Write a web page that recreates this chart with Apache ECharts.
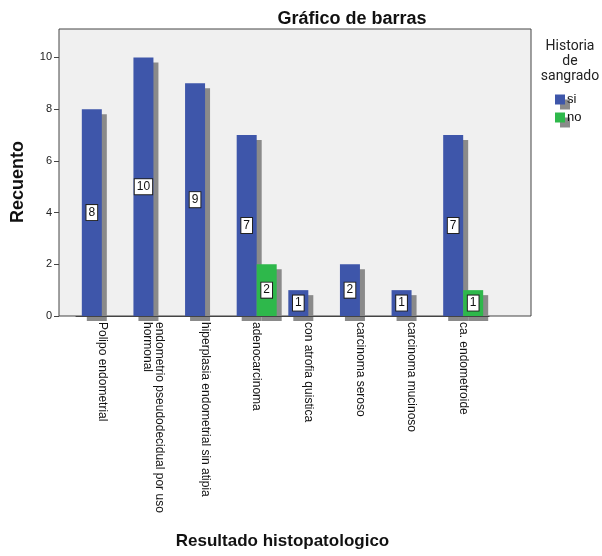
<!DOCTYPE html>
<html>
<head>
<meta charset="utf-8">
<script src="https://cdn.jsdelivr.net/npm/echarts@6/dist/echarts.min.js"></script>
<style>
html,body{margin:0;padding:0;background:#fff;}
#main{width:602px;height:556px;}
</style>
</head>
<body>
<div id="main"></div>
<script>
var categorias = ['Polipo endometrial', 'endometrio pseudodecidual por uso\nhormonal', 'hiperplasia endometrial sin atipia', 'adenocarcinoma', 'con atrofia quistica', 'carcinoma seroso', 'carcinoma mucinoso', 'ca. endometroide'];
var valoresSi = [8, 10, 9, 7, 1, 2, 1, 7];
var valoresNo = [null, null, null, 2, null, null, null, 1];
var ticksY = [0, 2, 4, 6, 8, 10];

var fuente = '"Liberation Sans", Arial, sans-serif';

function etiqueta(){
	return {
		show: true,
		position: 'inside',
		color: '#111',
		fontSize: 12,
		fontFamily: fuente,
		backgroundColor: '#fff',
		borderColor: '#222',
		borderWidth: 1,
		padding: [2, 2, 1, 2]
	};
}

// sombra gris de las barras, estilo SPSS
var sombra = {shadowColor: '#8a8a8a', shadowOffsetX: 5, shadowOffsetY: 5, shadowBlur: 0};

var chart = echarts.init(document.getElementById('main'));
var option = {
	animation: false,
	textStyle: {fontFamily: fuente},
	title: [
		{
			text: 'Gráfico de barras',
			left: 347,
			top: 5,
			textAlign: 'center',
			textStyle: {fontSize: 18, fontWeight: 'bold', color: '#111', fontFamily: fuente}
		},
		{
			text: 'Historia\nde\nsangrado',
			left: 565,
			top: 34,
			textAlign: 'center',
			textStyle: {fontSize: 14, fontWeight: 'normal', color: '#222', lineHeight: 15, fontFamily: 'Roboto, sans-serif'}
		}
	],
	legend: {
		orient: 'vertical',
		left: 550,
		top: 88,
		icon: 'rect',
		itemWidth: 10,
		itemHeight: 10,
		itemGap: 5,
		itemStyle: {shadowColor: '#8a8a8a', shadowOffsetX: 5, shadowOffsetY: 5, shadowBlur: 0},
		textStyle: {fontSize: 13, color: '#111', padding: [0, 0, 0, -3]},
		data: ['si', 'no']
	},
	graphic: [
		{
			type: 'text',
			x: 18,
			y: 182,
			rotation: Math.PI / 2,
			style: {
				text: 'Recuento',
				font: 'bold 18px ' + fuente,
				fill: '#111',
				textAlign: 'center',
				textVerticalAlign: 'middle'
			}
		}
	],
	grid: [
		{left: 59, right: 71, top: 29, bottom: 240, show: true, backgroundColor: '#f0f0f0', borderColor: '#444', borderWidth: 1},
		{left: 76, right: 113, top: 29, bottom: 240}
	],
	xAxis: [
		{gridIndex: 0, type: 'value', show: false},
		{
			gridIndex: 1,
			type: 'category',
			data: categorias,
			z: 5,
			axisLine: {show: true, lineStyle: {color: '#444', width: 1}},
			axisTick: {show: false},
			axisLabel: {rotate: -90, fontSize: 12, color: '#111', margin: 6, interval: 0, lineHeight: 12},
			name: 'Resultado histopatologico',
			nameLocation: 'middle',
			nameGap: 217,
			nameTextStyle: {fontSize: 17, fontWeight: 'bold', color: '#111'}
		}
	],
	yAxis: [
		{gridIndex: 0, type: 'value', show: false},
		{
			gridIndex: 1,
			type: 'value',
			min: 0,
			max: 11.1,
			interval: 2,
			offset: 17,
			axisLine: {show: false},
			axisTick: {show: true, length: 5, customValues: ticksY, lineStyle: {color: '#444'}},
			axisLabel: {fontSize: 11, color: '#222', margin: 7, customValues: ticksY},
			splitLine: {show: false}
		}
	],
	series: [
		{
			name: 'si',
			type: 'bar',
			xAxisIndex: 1,
			yAxisIndex: 1,
			barWidth: 20,
			barGap: '0%',
			itemStyle: Object.assign({color: '#3e56aa'}, sombra),
			label: etiqueta(),
			data: valoresSi
		},
		{
			name: 'no',
			type: 'bar',
			xAxisIndex: 1,
			yAxisIndex: 1,
			barWidth: 20,
			barGap: '0%',
			itemStyle: Object.assign({color: '#2eb84b'}, sombra),
			label: etiqueta(),
			data: valoresNo
		}
	]
};
chart.setOption(option);
</script>
</body>
</html>
